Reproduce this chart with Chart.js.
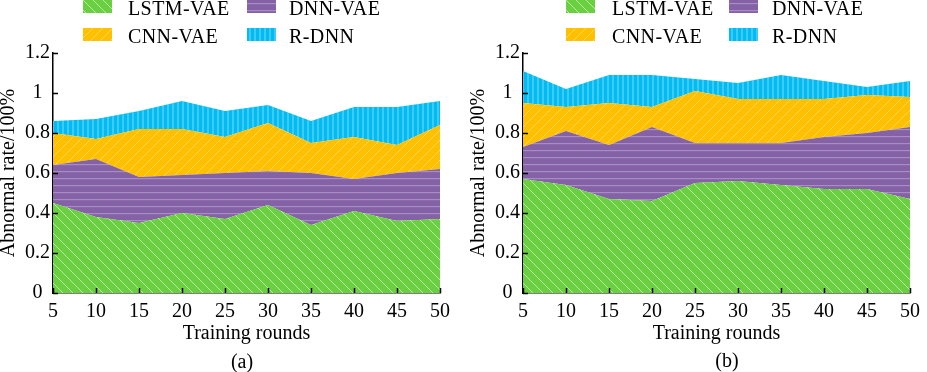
<!DOCTYPE html>
<html>
<head>
<meta charset="utf-8">
<script src="https://cdn.jsdelivr.net/npm/chart.js@4/dist/chart.umd.min.js"></script>
<style>
  html, body { margin: 0; padding: 0; background: #fff; }
  #wrap { position: relative; width: 927px; height: 372px; overflow: hidden; background: #fff;
          font-family: "Liberation Serif", "Times New Roman", serif; color: #000; }
  canvas.chart { position: absolute; top: 0; }
  .lg-txt { position: absolute; font-size: 20px; line-height: 20px; white-space: nowrap; letter-spacing: 0.4px; }
  .lg-sw { position: absolute; width: 29px; height: 13px; }
  .cap { position: absolute; font-size: 20px; line-height: 20px; transform: translateX(-50%); }
</style>
</head>
<body>
<div id="wrap">
  <canvas id="ca" class="chart" width="457" height="372" style="left:0px"></canvas>
  <canvas id="cb" class="chart" width="457" height="372" style="left:470px"></canvas>
</div>
<script>
// ---------- data ----------
const rounds = ['5','10','15','20','25','30','35','40','45','50'];
const seriesNames = ['LSTM-VAE', 'DNN-VAE', 'CNN-VAE', 'R-DNN'];
const yTicks = [0, 0.2, 0.4, 0.6, 0.8, 1, 1.2];

// panel (a) – individual (stacked) contributions
const lstmA = [0.45, 0.38, 0.35, 0.40, 0.37, 0.44, 0.34, 0.41, 0.36, 0.37];
const dnnA  = [0.19, 0.29, 0.23, 0.19, 0.23, 0.17, 0.26, 0.16, 0.24, 0.25];
const cnnA  = [0.16, 0.10, 0.24, 0.23, 0.18, 0.24, 0.15, 0.21, 0.14, 0.22];
const rdnnA = [0.06, 0.10, 0.09, 0.14, 0.13, 0.09, 0.11, 0.15, 0.19, 0.12];

// panel (b)
const lstmB = [0.57, 0.54, 0.47, 0.46, 0.55, 0.56, 0.54, 0.52, 0.52, 0.47];
const dnnB  = [0.16, 0.27, 0.27, 0.37, 0.20, 0.19, 0.21, 0.26, 0.28, 0.36];
const cnnB  = [0.22, 0.12, 0.21, 0.10, 0.26, 0.22, 0.22, 0.19, 0.19, 0.15];
const rdnnB = [0.16, 0.09, 0.14, 0.16, 0.06, 0.08, 0.12, 0.09, 0.04, 0.08];

const captions = ['(a)', '(b)'];

// ---------- patterns ----------
function makeTile(kind) {
  const c = document.createElement('canvas');
  let w = 10, h = 10;
  if (kind === 'purple') { w = 8; h = 7; }
  if (kind === 'cyan') { w = 5; h = 8; }
  c.width = w; c.height = h;
  const x = c.getContext('2d');
  if (kind === 'green') {
    x.fillStyle = '#6bd041'; x.fillRect(0, 0, w, h);
    x.strokeStyle = 'rgba(215,245,200,0.7)'; x.lineWidth = 1;
    x.beginPath();
    x.moveTo(-1, -1); x.lineTo(w + 1, h + 1);
    x.moveTo(-1, h - 1); x.lineTo(1, h + 1);
    x.moveTo(w - 1, -1); x.lineTo(w + 1, 1);
    x.stroke();
  } else if (kind === 'orange') {
    x.fillStyle = '#ffc000'; x.fillRect(0, 0, w, h);
    x.strokeStyle = 'rgba(255,222,120,0.75)'; x.lineWidth = 1;
    x.beginPath();
    x.moveTo(-1, h + 1); x.lineTo(w + 1, -1);
    x.moveTo(-1, 1); x.lineTo(1, -1);
    x.moveTo(w - 1, h + 1); x.lineTo(w + 1, h - 1);
    x.stroke();
  } else if (kind === 'purple') {
    x.fillStyle = '#8462a5'; x.fillRect(0, 0, w, h);
    x.fillStyle = '#a88dc4'; x.fillRect(0, 3, w, 1.2);
  } else if (kind === 'cyan') {
    x.fillStyle = '#02bbf2'; x.fillRect(0, 0, w, h);
    x.fillStyle = '#3ccaf7'; x.fillRect(2, 0, 2, h);
  }
  return c;
}
const kinds = ['green', 'purple', 'orange', 'cyan'];
const tiles = kinds.map(makeTile);
function patternFor(ctx, i) { return ctx.createPattern(tiles[i], 'repeat'); }

// ---------- inward ticks plugin ----------
const inwardTicks = {
  id: 'inwardTicks',
  afterDatasetsDraw(chart) {
    const { ctx, chartArea, scales } = chart;
    ctx.save();
    ctx.strokeStyle = '#000';
    ctx.lineWidth = 1.5;
    ctx.beginPath();
    scales.y.ticks.forEach(t => {
      const y = Math.round(scales.y.getPixelForValue(t.value)) + 0.5;
      ctx.moveTo(chartArea.left, y); ctx.lineTo(chartArea.left + 5, y);
    });
    scales.x.ticks.forEach((t, i) => {
      const x = Math.round(scales.x.getPixelForTick(i)) + 0.5;
      ctx.moveTo(x, chartArea.bottom); ctx.lineTo(x, chartArea.bottom - 5);
    });
    ctx.stroke();
    ctx.restore();
  }
};

function build(canvasId, arrays) {
  const canvas = document.getElementById(canvasId);
  const ctx = canvas.getContext('2d');
  const datasets = arrays.map((arr, i) => ({
    label: seriesNames[i],
    data: arr,
    fill: i === 0 ? 'origin' : '-1',
    backgroundColor: patternFor(ctx, i),
    borderWidth: 0,
    borderColor: 'rgba(0,0,0,0)',
    pointRadius: 0,
    pointHoverRadius: 0,
    tension: 0
  }));
  return new Chart(ctx, {
    type: 'line',
    data: { labels: rounds, datasets },
    plugins: [inwardTicks],
    options: {
      responsive: false,
      animation: false,
      events: [],
      layout: { padding: { top: 53, right: 15, bottom: 28, left: 0 } },
      plugins: { legend: { display: false }, tooltip: { enabled: false } },
      scales: {
        x: {
          offset: false,
          grid: { display: false, drawTicks: false },
          border: { display: true, color: '#000', width: 1.5 },
          ticks: { color: '#000', padding: 7, maxRotation: 0, autoSkip: false,
                   font: { family: 'Liberation Serif', size: 20 } },
          title: { display: true, text: 'Training rounds', color: '#000',
                   padding: { top: 0, bottom: 0 },
                   font: { family: 'Liberation Serif', size: 20, lineHeight: 1 } },
          afterFit(s) { s.height = 51; }
        },
        y: {
          stacked: true,
          min: 0, max: 1.2,
          afterBuildTicks(s) { s.ticks = yTicks.map(v => ({ value: v })); },
          grid: { display: false, drawTicks: false },
          border: { display: true, color: '#000', width: 1.5 },
          ticks: { color: '#000', padding: 3, crossAlign: 'center',
                   font: { family: 'Liberation Serif', size: 20 },
                   callback: v => String(+v.toFixed(1)) },
          title: { display: true, text: 'Abnormal rate/100%', color: '#000',
                   padding: { top: -1, bottom: 0 },
                   font: { family: 'Liberation Serif', size: 20, lineHeight: 1 } },
          afterFit(s) { s.width = 53; }
        }
      }
    }
  });
}

build('ca', [lstmA, dnnA, cnnA, rdnnA]);
build('cb', [lstmB, dnnB, cnnB, rdnnB]);

// ---------- HTML legends and captions ----------
const wrap = document.getElementById('wrap');
function addSwatch(i, left, top) {
  const c = document.createElement('canvas');
  c.width = 29; c.height = 13; c.className = 'lg-sw';
  c.style.left = left + 'px'; c.style.top = top + 'px';
  const x = c.getContext('2d');
  x.fillStyle = x.createPattern(tiles[i], 'repeat');
  x.fillRect(0, 0, 29, 13);
  wrap.appendChild(c);
}
function addText(txt, left, top, cls) {
  const d = document.createElement('div');
  d.className = cls; d.textContent = txt;
  d.style.left = left + 'px'; d.style.top = top + 'px';
  wrap.appendChild(d);
}
const legendPos = [
  { sw: [83, 247], tx: [128, 289] },
  { sw: [566, 729], tx: [612, 772] }
];
const rowSw = [0, 28], rowTx = [-2, 26];
legendPos.forEach(p => {
  const layout = [[0, 1], [2, 3]];
  layout.forEach((row, r) => {
    row.forEach((si, c) => {
      addSwatch(si, p.sw[c], rowSw[r]);
      addText(seriesNames[si], p.tx[c], rowTx[r], 'lg-txt');
    });
  });
});
addText(captions[0], 242, 351, 'cap');
addText(captions[1], 727, 350, 'cap');
</script>
</body>
</html>
